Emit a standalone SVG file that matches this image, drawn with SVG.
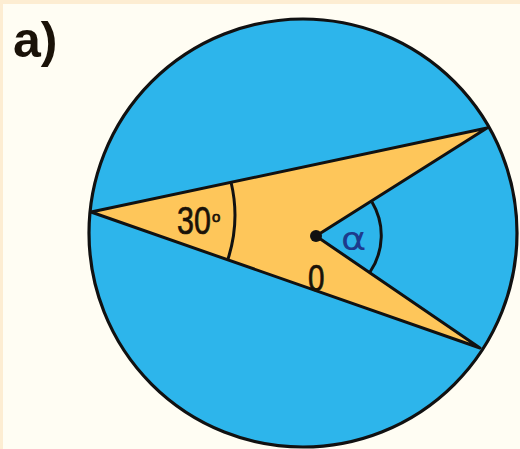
<svg xmlns="http://www.w3.org/2000/svg" width="520" height="449" viewBox="0 0 520 449">
<style>
.ln{fill:none;stroke:#111;stroke-width:3;stroke-linejoin:round}
.t{font-family:"Liberation Sans",Arial,sans-serif;fill:#1a1208}
.s{stroke:#1a1208;stroke-width:0.7}
</style>
<rect x="0" y="0" width="520" height="449" fill="#fdedd2"/>
<rect x="3" y="4" width="517" height="445" fill="#fffdf3"/>
<text class="t" x="13" y="57" font-size="50" font-weight="bold">a)</text>
<g id="circle">
<circle cx="303" cy="233" r="214" fill="#2db5eb" stroke="#111" stroke-width="3.2"/>
</g>
<g id="shape">
<polygon points="91,212 487,128 316,236 480,348" fill="#fec65a" stroke="#111" stroke-width="3" stroke-linejoin="round"/>
</g>
<g id="arcs">
<path class="ln" d="M231,182 A143,143 0 0 1 228,259"/>
<path class="ln" d="M372,202 A65,65 0 0 1 370,272"/>
</g>
<g id="center">
<circle cx="316" cy="236" r="6" fill="#111"/>
</g>
<g id="labels">
<text class="t s" transform="translate(177,234) scale(0.8,1)" font-size="38">30</text>
<text class="t s" x="212" y="222" font-size="15" stroke-width="0.5">o</text>
<text class="t s" transform="translate(308,291) scale(0.8,1)" font-size="37">0</text>
<text transform="translate(341,250) scale(1.2,1)" font-family="'DejaVu Sans',sans-serif" font-size="32" fill="#1d3b8c">α</text>
</g>
</svg>
